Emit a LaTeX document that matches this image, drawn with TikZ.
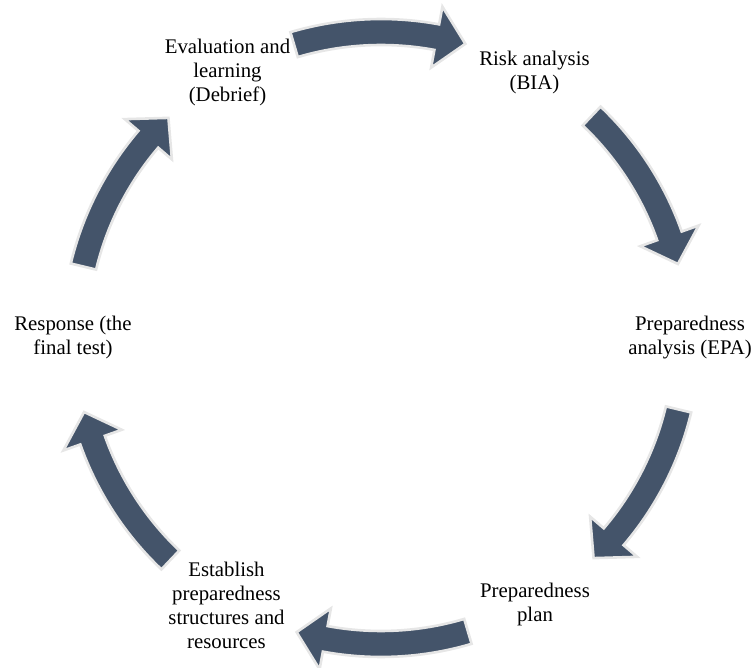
\documentclass[tikz,border=0pt]{standalone}
\usepackage{fontspec}
\setmainfont{Liberation Serif}
\usetikzlibrary{positioning}

\definecolor{slate}{HTML}{44546A}
\definecolor{rimgray}{HTML}{E6E6E6}

\begin{document}
\begin{tikzpicture}[
    x=0.5pt, y=0.5pt,
    stage/.style={align=center, inner sep=0pt, font=\fontsize{10.4}{12}\selectfont},
    cyclearrow/.style={fill=slate, draw=rimgray, line width=1.3pt, line join=miter}
]
    % radius of the cycle, half widths of arrow body and head
    \def\R{306}
    \def\w{13}
    \def\h{31}

    \useasboundingbox (-381,338) rectangle (374,-330);

    % curved arrows, running clockwise
    \foreach \a in {90,30,-30,-90,-150,-210} {
        \draw[cyclearrow] ({\a+16.5}:{\R+\w}) arc[start angle=\a+16.5, end angle=\a-10.5, radius=\R+\w]
            -- ({\a-10.5}:{\R+\h}) -- ({\a-16}:\R) -- ({\a-10.5}:{\R-\h}) -- ({\a-10.5}:{\R-\w})
            arc[start angle=\a-10.5, end angle=\a+16.5, radius=\R-\w] -- cycle;
    }

    % the six stages
    \node[stage] (risk) at (60:307) {Risk analysis\\(BIA)};
    \node[stage] (epa) at (0:309) {Preparedness\\analysis (EPA)};
    \node[stage] (plan) at (300:308) {Preparedness\\plan};
    \node[stage] (establish) at (240:309) {Establish\\preparedness\\structures and\\resources};
    \node[stage] (response) at (180:308) {Response (the\\final test)};
    \node[stage] (eval) at (120:307) {Evaluation and\\learning\\(Debrief)};
\end{tikzpicture}
\end{document}
